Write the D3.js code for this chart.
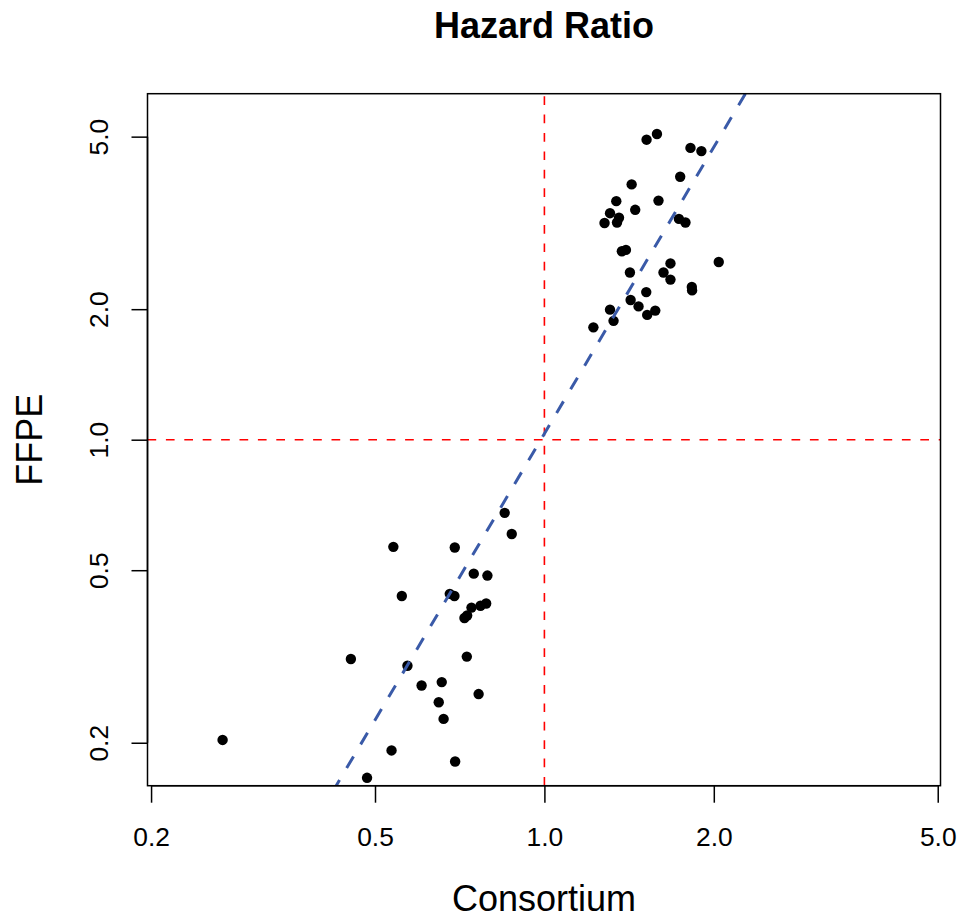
<!DOCTYPE html>
<html>
<head>
<meta charset="utf-8">
<script src="https://cdn.jsdelivr.net/npm/d3@7"></script>
<style>
  html, body { margin: 0; padding: 0; background: #fff; }
  svg { display: block; font-family: "Liberation Sans", Arial, Helvetica, sans-serif; }
</style>
</head>
<body>
<svg id="chart" width="961" height="921"></svg>
<script>
// ---- data ----
const consortium = [
  1.519, 1.585, 1.818, 1.901, 1.743, 1.429, 1.342, 1.595, 1.450, 1.308,
  1.357, 1.279, 1.346, 1.734, 1.781, 1.373, 1.396, 1.675, 2.041, 1.419,
  1.628, 1.675, 1.828, 1.830, 1.517, 1.423, 1.470, 1.308, 1.523, 1.574,
  1.327, 1.222,
  0.850, 0.875, 0.539, 0.693, 0.749, 0.792, 0.558, 0.679, 0.692, 0.742,
  0.770, 0.788, 0.729, 0.721, 0.453, 0.571, 0.728, 0.605, 0.657, 0.764,
  0.649, 0.662, 0.268, 0.535, 0.694, 0.484
];
const ffpe = [
  4.92, 5.07, 4.71, 4.63, 4.04, 3.88, 3.55, 3.56, 3.39, 3.33,
  3.25, 3.16, 3.17, 3.23, 3.17, 2.72, 2.74, 2.55, 2.57, 2.43,
  2.43, 2.34, 2.25, 2.21, 2.19, 2.10, 2.03, 1.995, 1.94, 1.985,
  1.88, 1.816,
  0.678, 0.606, 0.566, 0.564, 0.491, 0.486, 0.436, 0.441, 0.436, 0.410,
  0.414, 0.419, 0.393, 0.388, 0.312, 0.301, 0.316, 0.271, 0.276, 0.259,
  0.248, 0.227, 0.203, 0.192, 0.181, 0.166
];
const tickValues = [0.2, 0.5, 1, 2, 5];
const tickLabels = ["0.2", "0.5", "1.0", "2.0", "5.0"];
const refLineX = [1];          // vertical reference line (Consortium = 1)
const refLineY = [1];          // horizontal reference line (FFPE = 1)
const fitCoef = [0.014, 2.195]; // log10(FFPE) = a + b * log10(Consortium)
const xDomain = [0.1971, 5.057];
const yDomain = [0.1592, 6.281];

// ---- layout ----
const plot = { left: 147.5, right: 940.5, top: 93.7, bottom: 785.7 };
const svg = d3.select("#chart");

const x = d3.scaleLog().domain(xDomain).range([plot.left, plot.right]);
const y = d3.scaleLog().domain(yDomain).range([plot.bottom, plot.top]);

svg.append("defs").append("clipPath").attr("id", "plotclip")
  .append("rect")
  .attr("x", plot.left).attr("y", plot.top)
  .attr("width", plot.right - plot.left).attr("height", plot.bottom - plot.top);

const g = svg.append("g").attr("clip-path", "url(#plotclip)");

// points
g.selectAll("circle.pt").data(consortium.map((c, i) => [c, ffpe[i]]))
  .enter().append("circle")
  .attr("class", "pt")
  .attr("cx", d => x(d[0]))
  .attr("cy", d => y(d[1]))
  .attr("r", 5.2)
  .attr("fill", "#000");

// reference lines (red dashed)
g.selectAll("line.vref").data(refLineX).enter().append("line")
  .attr("x1", d => x(d)).attr("x2", d => x(d))
  .attr("y1", plot.bottom).attr("y2", plot.top)
  .attr("stroke", "#ff0000").attr("stroke-width", 1.6)
  .attr("stroke-dasharray", "8.7,9.7");
g.selectAll("line.href").data(refLineY).enter().append("line")
  .attr("x1", plot.left).attr("x2", plot.right)
  .attr("y1", d => y(d)).attr("y2", d => y(d))
  .attr("stroke", "#ff0000").attr("stroke-width", 1.6)
  .attr("stroke-dasharray", "8.7,9.7");

// fitted line (blue dashed)
const fx = v => Math.pow(10, (Math.log10(v) - fitCoef[0]) / fitCoef[1]);
const fitPts = [yDomain[0], yDomain[1]].map(v => [fx(v), v]);
g.append("path")
  .attr("d", d3.line().x(d => x(d[0])).y(d => y(d[1]))(fitPts))
  .attr("fill", "none")
  .attr("stroke", "#3a5aa8")
  .attr("stroke-width", 3)
  .attr("stroke-dasharray", "13.5,14")
  .attr("stroke-dashoffset", 7);

// box
svg.append("rect")
  .attr("x", plot.left).attr("y", plot.top)
  .attr("width", plot.right - plot.left).attr("height", plot.bottom - plot.top)
  .attr("fill", "none").attr("stroke", "#000").attr("stroke-width", 1.5);

// x axis
const xAxis = svg.append("g").attr("transform", `translate(0,${plot.bottom})`)
  .call(d3.axisBottom(x).tickValues(tickValues)
    .tickFormat((d, i) => tickLabels[i]).tickSize(17).tickSizeOuter(0));
xAxis.select(".domain").remove();
xAxis.append("line")
  .attr("x1", x(tickValues[0])).attr("x2", x(tickValues[tickValues.length - 1]))
  .attr("y1", 0).attr("y2", 0).attr("stroke", "#000").attr("stroke-width", 1.5);
xAxis.selectAll(".tick line").attr("stroke", "#000").attr("stroke-width", 1.5);
xAxis.selectAll(".tick text")
  .attr("y", 60.3).attr("dy", null)
  .attr("fill", "#000")
  .style("font-size", "26.4px")
  .style("font-family", "'Liberation Sans', Arial, sans-serif");

// y axis
const yAxis = svg.append("g").attr("transform", `translate(${plot.left},0)`)
  .call(d3.axisLeft(y).tickValues(tickValues)
    .tickFormat((d, i) => tickLabels[i]).tickSize(16).tickSizeOuter(0));
yAxis.select(".domain").remove();
yAxis.append("line")
  .attr("y1", y(tickValues[0])).attr("y2", y(tickValues[tickValues.length - 1]))
  .attr("x1", 0).attr("x2", 0).attr("stroke", "#000").attr("stroke-width", 1.5);
yAxis.selectAll(".tick line").attr("stroke", "#000").attr("stroke-width", 1.5);
yAxis.selectAll(".tick text")
  .attr("x", 0).attr("y", -39.5).attr("dy", null).attr("dx", null)
  .attr("transform", "rotate(-90)")
  .attr("text-anchor", "middle")
  .attr("fill", "#000")
  .style("font-size", "26.4px")
  .style("font-family", "'Liberation Sans', Arial, sans-serif");

// title and axis labels
const cx = (plot.left + plot.right) / 2;
const cy = (plot.top + plot.bottom) / 2;
svg.append("text")
  .attr("x", cx).attr("y", 38.3)
  .attr("text-anchor", "middle")
  .style("font-size", "36px").style("font-weight", "bold")
  .text("Hazard Ratio");
svg.append("text")
  .attr("x", cx).attr("y", 911)
  .attr("text-anchor", "middle")
  .style("font-size", "36px")
  .text("Consortium");
svg.append("text")
  .attr("transform", `translate(41.7,${cy}) rotate(-90)`)
  .attr("text-anchor", "middle")
  .style("font-size", "36px")
  .text("FFPE");
</script>
</body>
</html>
